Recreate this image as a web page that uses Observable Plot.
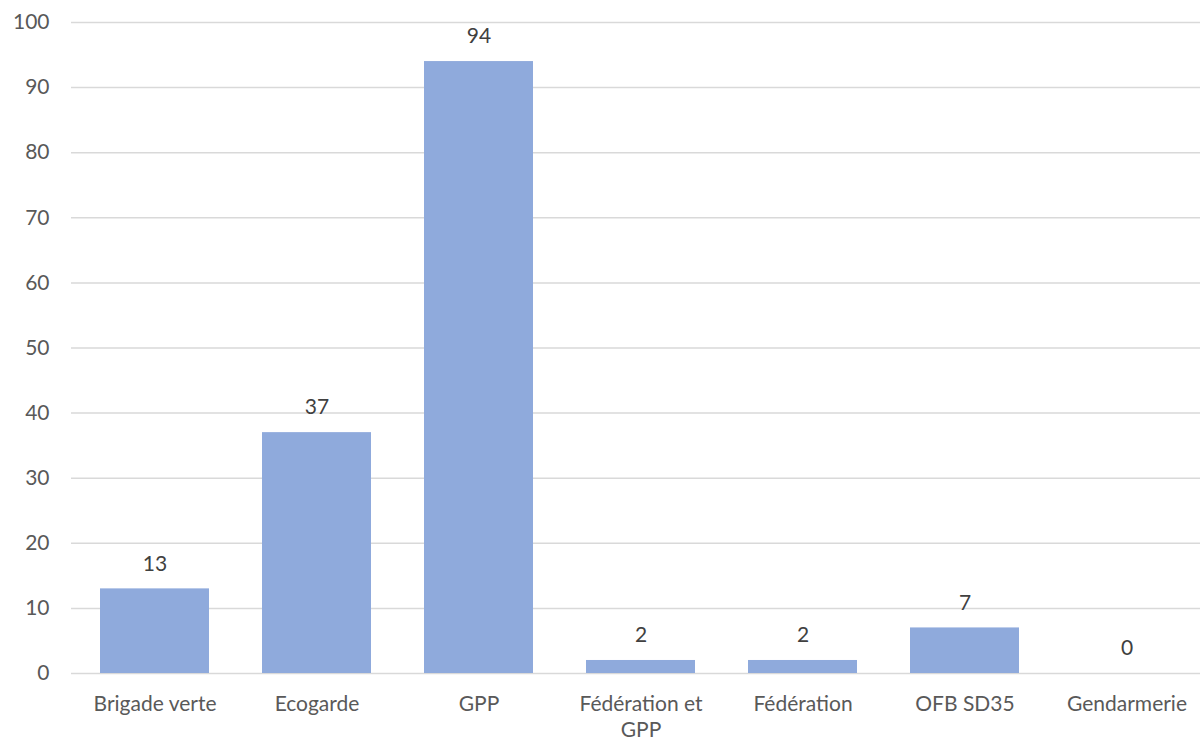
<!DOCTYPE html>
<html><head><meta charset="utf-8">
<script src="https://cdn.jsdelivr.net/npm/d3@7"></script>
<script src="https://cdn.jsdelivr.net/npm/@observablehq/plot@0.6"></script>
<style>
body{margin:0;background:#fff;}
svg{display:block;}
</style>
</head><body>
<div id="chart"></div>
<script>
const categories = ["Brigade verte", "Ecogarde", "GPP", "Fédération et GPP", "Fédération", "OFB SD35", "Gendarmerie"];
const values = [13, 37, 94, 2, 2, 7, 0];
const yTicks = [0, 10, 20, 30, 40, 50, 60, 70, 80, 90, 100];

const data = categories.map((c, i) => ({cat: c, val: values[i]}));
const font = "Lato, 'Open Sans', sans-serif";

const chart = Plot.plot({
  width: 1200,
  height: 740,
  marginTop: 22,
  marginBottom: 67,
  marginLeft: 71,
  marginRight: 0,
  style: {fontFamily: font, fontSize: "21px", color: "#595959", background: "#fff", overflow: "hidden"},
  x: {domain: categories, range: [71, 1209.5], paddingInner: 0.33, paddingOuter: 0.165, label: null},
  y: {domain: [0, 100], label: null},
  marks: [
    Plot.ruleY(yTicks, {stroke: "#D9D9D9", strokeWidth: 1.5}),
    Plot.axisY({ticks: yTicks, tickSize: 0, tickPadding: 22, label: null, fontSize: 21, fill: "#595959"}),
    Plot.barY(data, {x: "cat", y: "val", fill: "#8FAADC"}),
    Plot.text(data, {x: "cat", y: "val", text: d => String(d.val), dy: -25, fill: "#404040", fontSize: 21}),
    Plot.axisX({tickSize: 0, tickPadding: 20, label: null, fontSize: 21, fill: "#595959",
      tickFormat: d => d === "Fédération et GPP" ? "Fédération et\nGPP" : d, lineHeight: 1.2})
  ]
});
document.getElementById("chart").appendChild(chart);
</script>
</body></html>
